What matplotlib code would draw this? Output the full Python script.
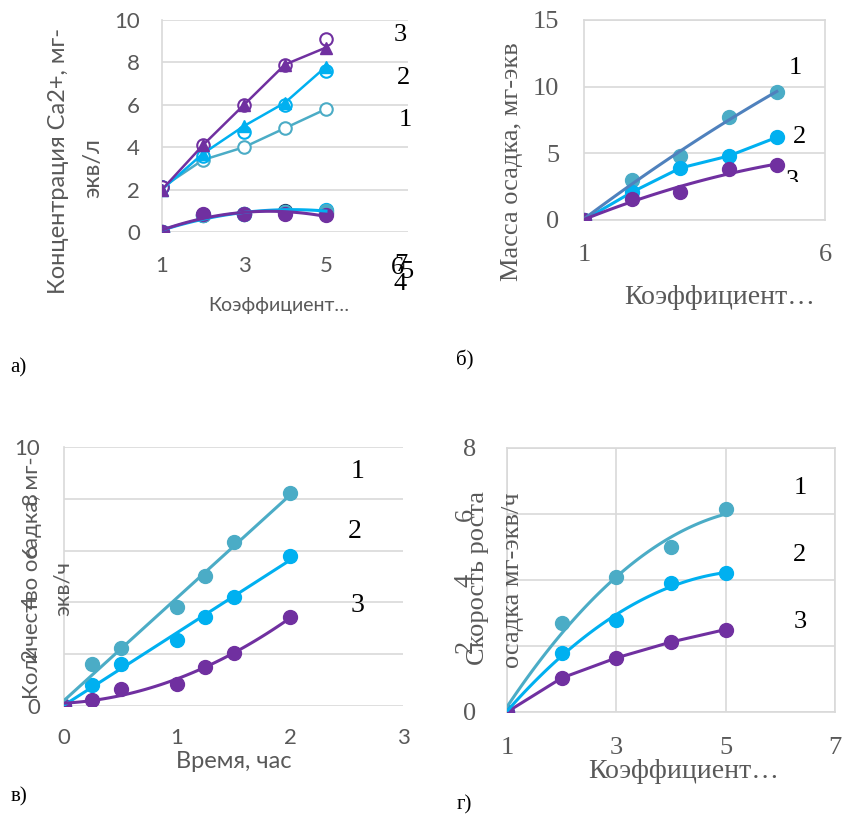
import matplotlib.pyplot as plt
import numpy as np
from matplotlib.transforms import Bbox, TransformedBbox

W, H = 844, 815

# а) концентрация Ca2+
a_x = [1, 2, 3, 4, 5]
a_s1 = [2.1, 3.4, 4.0, 4.9, 5.8]
a_s2_tri = [2.0, 3.7, 5.0, 6.1, 7.8]
a_s2_circ = [2.1, 3.6, 4.7, 6.0, 7.6]
a_s3_tri = [2.0, 4.1, 6.0, 7.9, 8.7]
a_s3_circ = [2.1, 4.1, 6.0, 7.9, 9.1]
a_s4 = [0, 0.8, 0.85, 1.0, 0.9]
a_s5 = [0, 0.8, 0.85, 0.95, 1.05]
a_s6 = [0, 0.8, 0.85, 0.95, 1.0]
a_s7 = [0, 0.85, 0.85, 0.85, 0.8]

# б) масса осадка
b_x = [1, 2, 3, 4, 5]
b_s1 = [0, 3.0, 4.8, 7.7, 9.6]
b_s2 = [0, 2.1, 3.9, 4.8, 6.2]
b_s3 = [0, 1.6, 2.1, 3.8, 4.1]

# в) количество осадка от времени
c_x = [0, 0.25, 0.5, 1, 1.25, 1.5, 2]
c_s1 = [0, 1.62, 2.24, 3.82, 5.02, 6.33, 8.22]
c_s2 = [0, 0.81, 1.62, 2.55, 3.43, 4.21, 5.79]
c_s3 = [0, 0.23, 0.66, 0.85, 1.5, 2.04, 3.43]

# г) скорость роста осадка
d_x = [1, 2, 3, 4, 5]
d_s1 = [0, 2.7, 4.08, 5.0, 6.15]
d_s2 = [0, 1.8, 2.8, 3.9, 4.2]
d_s3 = [0, 1.03, 1.64, 2.12, 2.5]

teal = '#4BACC6'
blue = '#00B0F0'
purple = '#7030A0'
steel = '#4F81BD'
navy = '#1F3864'
grey = '#595959'
grid = '#D9D9D9'

SANS = 'Lato'
SERIF = 'Liberation Serif'

fig = plt.figure(figsize=(W / 100, H / 100), dpi=100)


def box(l, t, r, b):
	return fig.add_axes([l / W, 1 - b / H, (r - l) / W, (b - t) / H])


def trend(x, y, deg, x0, x1):
	c = np.polyfit(x, y, deg)
	xx = np.linspace(x0, x1, 100)
	return xx, np.polyval(c, xx)


def txt(x, y, s, size, family=SERIF, color='black', **kw):
	return fig.text(x / W, 1 - y / H, s, fontsize=size, family=family,
		color=color, ha='center', va='center', **kw)


def style(ax, family, size, xpad, ypad, box_all=False, vgrid=False):
	for k in ['top', 'right', 'bottom', 'left']:
		ax.spines[k].set_visible(box_all)
	ax.spines['left'].set_visible(True)
	for k in ax.spines:
		ax.spines[k].set_color(grid)
		ax.spines[k].set_linewidth(1.2)
	ax.grid(axis='y', color=grid, lw=1.2)
	if vgrid:
		ax.grid(axis='x', color=grid, lw=1.2)
	ax.set_axisbelow(True)
	ax.tick_params(length=0, labelsize=size, labelcolor=grey)
	ax.tick_params(axis='x', pad=xpad)
	ax.tick_params(axis='y', pad=ypad)
	for lbl in ax.get_xticklabels() + ax.get_yticklabels():
		lbl.set_family(family)


# ---------- а) ----------
ax = box(162, 20, 408, 232)
ax.set_xlim(1, 7)
ax.set_ylim(0, 10)
ax.set_xticks([1, 3, 5])
ax.set_yticks([0, 2, 4, 6, 8, 10])
style(ax, SANS, 16, 17, 16)
ax.plot(a_x, a_s1, color=teal, lw=1.8, marker='o', ms=9, mfc='white', mew=1.5, zorder=3)
ax.plot(a_x, a_s2_circ, color=blue, lw=0, marker='o', ms=9, mfc='white', mew=1.5, zorder=3)
ax.plot(a_x, a_s2_tri, color=blue, lw=1.8, marker='^', ms=9, zorder=4)
ax.plot(a_x, a_s3_circ, color=purple, lw=0, marker='o', ms=9, mfc='white', mew=1.5, zorder=3)
ax.plot(a_x, a_s3_tri, color=purple, lw=1.8, marker='^', ms=9, zorder=4)
for ys, col in [(a_s4, navy), (a_s5, blue), (a_s6, teal), (a_s7, purple)]:
	ax.plot(a_x, ys, color=col, lw=0, marker='o', ms=10, zorder=3)
xx, yy = trend(a_x, a_s5, 2, 1, 5)
ax.plot(xx, yy, color=blue, lw=2.2, zorder=4)
xx, yy = trend(a_x, a_s7, 2, 1, 5)
ax.plot(xx, yy, color=purple, lw=2.2, zorder=4)
for s, x, y in [('3', 400, 35), ('2', 403, 78), ('1', 405, 120),
		('6', 397, 268), ('7', 401, 265), ('5', 407, 272), ('4', 400, 284)]:
	txt(x, y, s, 19)
txt(279, 305, 'Коэффициент…', 14, SANS, grey)
txt(59, 161, 'Концентрация Ca2+, мг-', 17, SANS, grey, rotation=90)
txt(93, 168, 'экв/л', 17, SANS, grey, rotation=90)

# ---------- б) ----------
ax = box(584, 20, 825, 220)
ax.set_xlim(1, 6)
ax.set_ylim(0, 15)
ax.set_xticks([1, 6])
ax.set_yticks([0, 5, 10, 15])
style(ax, SERIF, 19, 17, 18, box_all=True)
ax.plot(b_x, b_s1, color=teal, lw=0, marker='o', ms=10, zorder=3)
xx, yy = trend(b_x, b_s1, 2, 1, 5)
ax.plot(xx, yy, color=steel, lw=2.2, zorder=4)
ax.plot(b_x, b_s2, color=blue, lw=2.2, marker='o', ms=10, zorder=3)
ax.plot(b_x, b_s3, color=purple, lw=0, marker='o', ms=10, zorder=3)
xx, yy = trend(b_x, b_s3, 2, 1, 5)
ax.plot(xx, yy, color=purple, lw=2.2, zorder=4)
txt(795, 68, '1', 19)
txt(800, 137, '2', 19)
t = txt(792, 181, '3', 19)
t.set_clip_box(TransformedBbox(Bbox([[0.6, 1 - 182 / H], [1, 1]]), fig.transFigure))
t.set_clip_on(True)
txt(720, 298, 'Коэффициент…', 20, SERIF, grey)
txt(512, 162, 'Масса осадка, мг-экв', 19, SERIF, grey, rotation=90)

# ---------- в) ----------
ax = box(64, 447, 403, 706)
ax.set_xlim(0, 3)
ax.set_ylim(0, 10)
ax.set_xticks([0, 1, 2, 3])
ax.set_yticks([0, 2, 4, 6, 8, 10], ['0', '2', '4', '6', '8', '10'])
style(ax, SANS, 16, 16, 17)
for lbl in ax.get_yticklabels()[1:5]:
	lbl.set_rotation(90)
	lbl.set_va('center')
ax.plot(c_x, c_s1, color=teal, lw=0, marker='o', ms=10, zorder=3)
xx, yy = trend(c_x, c_s1, 1, 0, 2)
ax.plot(xx, yy, color=teal, lw=2.2, zorder=4)
ax.plot(c_x, c_s2, color=blue, lw=0, marker='o', ms=10, zorder=3)
xx, yy = trend(c_x, c_s2, 1, 0, 2)
ax.plot(xx, yy, color=blue, lw=2.2, zorder=4)
ax.plot(c_x, c_s3, color=purple, lw=0, marker='o', ms=10, zorder=3)
xx, yy = trend(c_x, c_s3, 2, 0, 2)
ax.plot(xx, yy, color=purple, lw=2.2, zorder=4)
txt(358, 472, '1', 20)
txt(355, 532, '2', 20)
txt(357, 605, '3', 20)
txt(234, 762, 'Время, час', 17, SANS, grey)
txt(32, 578, 'Количество осадка, мг-', 16, SANS, grey, rotation=90)
txt(63, 588, 'экв/ч', 16, SANS, grey, rotation=90)

# ---------- г) ----------
ax = box(507, 448, 835, 712)
ax.set_xlim(1, 7)
ax.set_ylim(0, 8)
ax.set_xticks([1, 3, 5, 7])
ax.set_yticks([0, 2, 4, 6, 8], ['0', '2', '4', '6', '8'])
style(ax, SERIF, 19, 18, 22, box_all=True, vgrid=True)
for lbl in ax.get_yticklabels()[1:4]:
	lbl.set_rotation(90)
	lbl.set_va('center')
ax.plot(d_x, d_s1, color=teal, lw=0, marker='o', ms=10, zorder=3)
xx, yy = trend(d_x, d_s1, 2, 1, 5)
ax.plot(xx, yy, color=teal, lw=2.2, zorder=4)
ax.plot(d_x, d_s2, color=blue, lw=0, marker='o', ms=10, zorder=3)
xx, yy = trend(d_x, d_s2, 2, 1, 5)
ax.plot(xx, yy, color=blue, lw=2.2, zorder=4)
ax.plot(d_x, d_s3, color=purple, lw=2.2, marker='o', ms=10, zorder=3)
txt(800, 488, '1', 19)
txt(800, 555, '2', 19)
txt(800, 622, '3', 19)
txt(684, 772, 'Коэффициент…', 20, SERIF, grey)
txt(478, 578, 'Скорость роста', 19, SERIF, grey, rotation=90)
txt(513, 580, 'осадка мг-экв/ч', 19, SERIF, grey, rotation=90)

# подписи панелей
txt(18, 368, 'а)', 15)
txt(465, 360, 'б)', 15)
txt(19, 797, 'в)', 15)
txt(464, 805, 'г)', 15)

plt.savefig('out.png', dpi=100)
